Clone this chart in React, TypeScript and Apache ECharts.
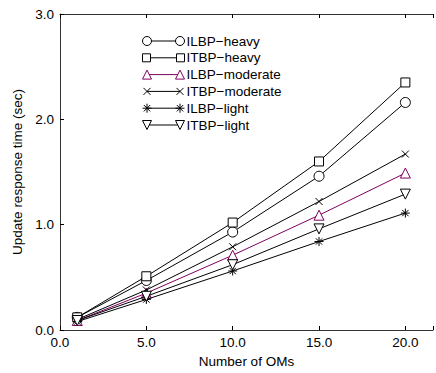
import React, { useEffect, useRef } from "react";
import * as echarts from "echarts";

const omCounts = [1, 5, 10, 15, 20];
const ilbpHeavy = [0.12, 0.47, 0.93, 1.46, 2.16];
const itbpHeavy = [0.12, 0.51, 1.02, 1.6, 2.35];
const ilbpModerate = [0.09, 0.35, 0.71, 1.09, 1.49];
const itbpModerate = [0.1, 0.38, 0.79, 1.22, 1.67];
const ilbpLight = [0.08, 0.29, 0.56, 0.84, 1.11];
const itbpLight = [0.09, 0.32, 0.62, 0.96, 1.29];

const seriesNames = [
  "ILBP\u2212heavy",
  "ITBP\u2212heavy",
  "ILBP\u2212moderate",
  "ITBP\u2212moderate",
  "ILBP\u2212light",
  "ITBP\u2212light",
];
const seriesValues = [ilbpHeavy, itbpHeavy, ilbpModerate, itbpModerate, ilbpLight, itbpLight];

const PURPLE = "#800060";
const colors = ["#000", "#000", PURPLE, "#000", "#000", "#000"];

const crossPath = "path://M0,0 L10,10 M10,0 L0,10";
const starPath = "path://M5,0 L5,10 M0,5 L10,5 M1.5,1.5 L8.5,8.5 M8.5,1.5 L1.5,8.5 M0,0 M10,10";
const downTriPath = "path://M0,0 L10,0 L5,10 Z";
const symbols = ["circle", "rect", "triangle", crossPath, starPath, downTriPath];
const symbolSizes = [10, 9, 10, 7, 9, 10];

const legendIcons = [
  "path://M0,4.5 A4.5,4.5 0 1 1 9,4.5 A4.5,4.5 0 1 1 0,4.5 Z M9,4.5 L33,4.5 M33,4.5 A4.5,4.5 0 1 1 42,4.5 A4.5,4.5 0 1 1 33,4.5 Z",
  "path://M0,0.5 L8,0.5 L8,8.5 L0,8.5 Z M8,4.5 L34,4.5 M34,0.5 L42,0.5 L42,8.5 L34,8.5 Z M0,0 M42,9",
  "path://M4.5,0 L9,9 L0,9 Z M6.75,4.5 L35.25,4.5 M37.5,0 L42,9 L33,9 Z",
  "path://M1,1 L8,8 M8,1 L1,8 M4.5,4.5 L37.5,4.5 M34,1 L41,8 M41,1 L34,8 M0,0 M42,9",
  "path://M4.5,0 L4.5,9 M0,4.5 L9,4.5 M1.3,1.3 L7.7,7.7 M7.7,1.3 L1.3,7.7 M4.5,4.5 L37.5,4.5 M37.5,0 L37.5,9 M33,4.5 L42,4.5 M34.3,1.3 L40.7,7.7 M40.7,1.3 L34.3,7.7",
  "path://M0,0 L9,0 L4.5,9 Z M6.75,4.5 L35.25,4.5 M33,0 L42,0 L37.5,9 Z",
];

const FONT = "'Liberation Sans', Arial, Helvetica, sans-serif";

export default function App() {
  const ref = useRef<HTMLDivElement>(null);
  useEffect(() => {
    if (!ref.current) return;
    const chart = echarts.init(ref.current, undefined, { renderer: "svg" });
    const fmt = (v: number) => (Math.abs(v % 5) < 1e-9 ? v.toFixed(1) : "");
    chart.setOption({
      animation: false,
      backgroundColor: "#fff",
      textStyle: { fontFamily: FONT },
      grid: { left: 60, right: 0, top: 14, bottom: 41, containLabel: false },
      legend: {
        orient: "vertical",
        left: 137,
        top: 29,
        itemWidth: 42,
        itemHeight: 9,
        itemGap: 2.8,
        selectedMode: false,
        textStyle: { fontSize: 13.5, color: "#000", fontFamily: FONT, padding: [0, 0, 0, -3] },
        data: seriesNames.map((n, i) => ({
          name: n,
          icon: legendIcons[i],
          itemStyle: { color: "#fff", borderColor: colors[i], borderWidth: 1 },
        })),
      },
      xAxis: [
        {
          type: "value",
          min: 0,
          max: 21.6,
          interval: 5,
          name: "Number of OMs",
          nameLocation: "middle",
          nameGap: 24,
          nameTextStyle: { fontSize: 13.5, color: "#000", fontFamily: FONT },
          axisLine: { show: true, lineStyle: { color: "#333", width: 1 } },
          axisTick: { show: true, inside: true, length: 4, lineStyle: { color: "#000" } },
          axisLabel: { formatter: fmt, fontSize: 13.5, color: "#000", margin: 5, fontFamily: FONT },
          splitLine: { show: false },
        },
        {
          type: "value",
          position: "top",
          min: 0,
          max: 21.6,
          interval: 5,
          axisLine: { show: true, onZero: false, lineStyle: { color: "#333", width: 1 } },
          axisTick: { show: true, inside: true, length: 4, lineStyle: { color: "#000" } },
          axisLabel: { show: false },
          splitLine: { show: false },
        },
      ],
      yAxis: {
        type: "value",
        min: 0,
        max: 3,
        interval: 1,
        name: "Update response time (sec)",
        nameLocation: "middle",
        nameGap: 34,
        nameTextStyle: { fontSize: 13.5, color: "#000", fontFamily: FONT },
        axisLine: { show: true, lineStyle: { color: "#333", width: 1 } },
        axisTick: { show: true, inside: true, length: 4, lineStyle: { color: "#000" } },
        axisLabel: { formatter: (v: number) => v.toFixed(1), fontSize: 13.5, color: "#000", margin: 6, fontFamily: FONT },
        splitLine: { show: false },
      },
      series: seriesNames.map((n, i) => ({
        name: n,
        type: "line",
        xAxisIndex: 0,
        data: omCounts.map((x, j) => [x, seriesValues[i][j]]),
        symbol: symbols[i],
        symbolSize: symbolSizes[i],
        showAllSymbol: true,
        lineStyle: { color: colors[i], width: 1 },
        itemStyle: { color: "#fff", borderColor: colors[i], borderWidth: 1 },
        emphasis: { disabled: true },
        z: 2 + i,
      })),
    });
    return () => chart.dispose();
  }, []);
  return (
    <div
      ref={ref}
      style={{ position: "absolute", left: 0, top: 0, width: 436, height: 373 }}
    />
  );
}
